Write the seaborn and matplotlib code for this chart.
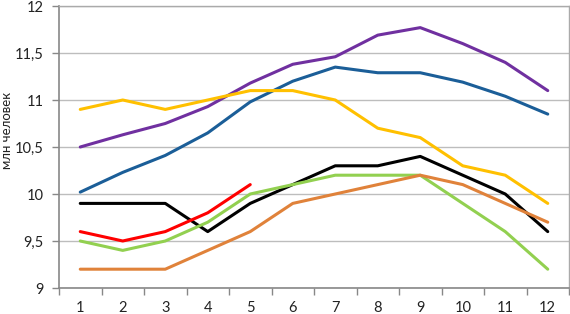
import matplotlib
matplotlib.use("Agg")
import matplotlib.pyplot as plt
import seaborn as sns
import pandas as pd
from matplotlib.ticker import FixedLocator, FuncFormatter

months = [1, 2, 3, 4, 5, 6, 7, 8, 9, 10, 11, 12]
purple = [10.5, 10.63, 10.75, 10.93, 11.18, 11.38, 11.46, 11.69, 11.77, 11.6, 11.4, 11.1]
blue = [10.02, 10.23, 10.41, 10.65, 10.98, 11.2, 11.35, 11.29, 11.29, 11.19, 11.04, 10.85]
yellow = [10.9, 11.0, 10.9, 11.0, 11.1, 11.1, 11.0, 10.7, 10.6, 10.3, 10.2, 9.9]
black = [9.9, 9.9, 9.9, 9.6, 9.9, 10.1, 10.3, 10.3, 10.4, 10.2, 10.0, 9.6]
red_months = [1, 2, 3, 4, 5]
red = [9.6, 9.5, 9.6, 9.8, 10.1]
green = [9.5, 9.4, 9.5, 9.7, 10.0, 10.1, 10.2, 10.2, 10.2, 9.9, 9.6, 9.2]
orange = [9.2, 9.2, 9.2, 9.4, 9.6, 9.9, 10.0, 10.1, 10.2, 10.1, 9.9, 9.7]
y_ticks = [9, 9.5, 10, 10.5, 11, 11.5, 12]

series = [
    ("purple", months, purple, "#7030A0"),
    ("blue", months, blue, "#1B5E98"),
    ("yellow", months, yellow, "#FFC000"),
    ("black", months, black, "#000000"),
    ("green", months, green, "#92D050"),
    ("orange", months, orange, "#E0823A"),
    ("red", red_months, red, "#FF0000"),
]

sns.set_theme(style="white")
plt.rcParams['font.family'] = ['Lato', 'DejaVu Sans']

fig = plt.figure(figsize=(5.7, 3.14), dpi=100)
ax = fig.add_axes([59/570, 1-288/314, 510/570, 282/314])

for name, xs, ys, col in series:
    df = pd.DataFrame({"m": xs, "v": ys})
    sns.lineplot(data=df, x="m", y="v", ax=ax, color=col, linewidth=2.2, legend=False)

ax.set_xlim(0.5, 12.5)
ax.set_ylim(9, 12)
ax.set_xticks(months)
ax.set_xticklabels([str(m) for m in months])
ax.xaxis.set_minor_locator(FixedLocator([m + 0.5 for m in range(0, 13)]))
ax.tick_params(axis="x", which="major", length=0, pad=9, labelsize=10.5, colors="#222222")
ax.tick_params(axis="x", which="minor", length=5, width=1, color="#888888", direction="out", bottom=True)
ax.set_yticks(y_ticks)
ax.yaxis.set_major_formatter(FuncFormatter(lambda v, p: (f"{v:g}").replace(".", ",")))
ax.tick_params(axis="y", length=5, width=1, color="#888888", direction="out", left=True, labelsize=10.5, pad=6, colors="#222222")
ax.grid(axis="y", color="#BDBDBD", linewidth=1)
ax.grid(axis="x", visible=False)
for s in ["left", "bottom"]:
    ax.spines[s].set_color("#888888")
    ax.spines[s].set_linewidth(1.2)
for s in ["top", "right"]:
    ax.spines[s].set_color("#AAAAAA")
    ax.spines[s].set_linewidth(1)
ax.set_xlabel("")
ax.set_ylabel("")
fig.text(0.002, 1-130/314, "млн человек", rotation=90, va="center", ha="left", fontsize=9.5, color="#222222")

fig.savefig("out.png", dpi=100)
